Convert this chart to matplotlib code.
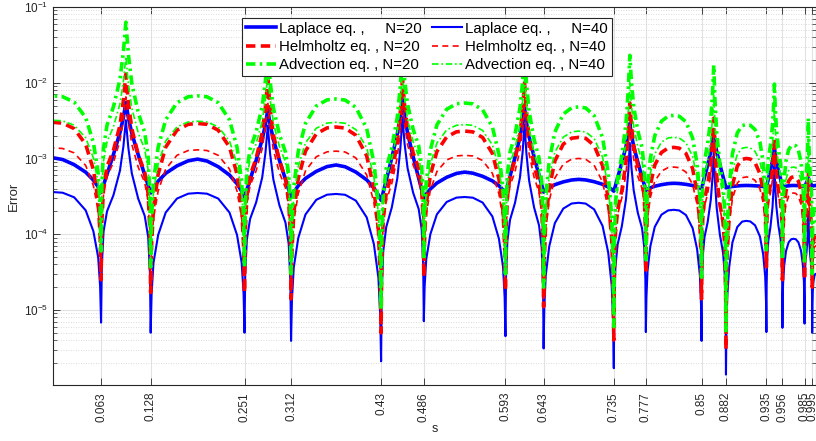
import numpy as np
import matplotlib
matplotlib.use('Agg')
import matplotlib.pyplot as plt
from matplotlib.ticker import LogLocator, NullFormatter

plt.rcParams['font.family'] = ['Liberation Sans', 'DejaVu Sans']

# s positions where the N=40 errors vanish (also used as x ticks)
nodes = [0.063, 0.128, 0.251, 0.312, 0.43, 0.486, 0.593, 0.643,
         0.735, 0.777, 0.85, 0.882, 0.935, 0.956, 0.985, 0.995]
tick_labels = ['0.063', '0.128', '0.251', '0.312', '0.43', '0.486', '0.593', '0.643',
               '0.735', '0.777', '0.85', '0.882', '0.935', '0.956', '0.985', '0.995']

# arch tops (s=0, the 7 gaps between node pairs, s=1),
# spike tops between each node pair, and the value at each node
lap20_tops = [1.02e-3, 9.8e-4, 8.2e-4, 6.6e-4, 5.3e-4, 4.7e-4, 4.4e-4, 4.4e-4, 4.4e-4]
lap20_peaks = [5.5e-3, 4.4e-3, 6.0e-3, 4.6e-3, 2.9e-3, 2.2e-3, 1.4e-3, 5.5e-4]
lap20_dips = [3.6e-4, 3.5e-4, 3.1e-4, 3.1e-4, 2.8e-4, 3.0e-4, 3.5e-4, 3.6e-4,
              3.7e-4, 3.8e-4, 4.0e-4, 4.1e-4, 4.2e-4, 4.2e-4, 4.3e-4, 4.3e-4]

lap40_tops = [3.6e-4, 3.5e-4, 3.4e-4, 3.1e-4, 2.6e-4, 2.1e-4, 1.5e-4, 8.7e-5, 3.0e-5]
lap40_peaks = [3.2e-3, 2.7e-3, 3.5e-3, 2.8e-3, 1.6e-3, 1.2e-3, 8.0e-4, 2.0e-4]
lap40_dips = [6.8e-6, 5.0e-6, 5.0e-6, 3.9e-6, 2.1e-6, 7.1e-6, 4.5e-6, 3.1e-6,
              1.7e-6, 5.1e-6, 3.9e-6, 1.4e-6, 5.1e-6, 5.8e-6, 6.6e-6, 5.0e-6]

helm20_tops = [3.0e-3, 2.9e-3, 2.6e-3, 2.3e-3, 1.9e-3, 1.4e-3, 1.0e-3, 5.7e-4, 1.0e-4]
helm20_peaks = [1.3e-2, 1.1e-2, 1.1e-2, 1.0e-2, 5.4e-3, 3.4e-3, 1.9e-3, 7.0e-4]
helm20_dips = [2.5e-5, 1.7e-5, 1.7e-5, 1.4e-5, 5.0e-6, 2.7e-5, 1.8e-5, 1.1e-5,
               4.0e-6, 3.0e-5, 1.4e-5, 3.0e-6, 3.7e-5, 2.5e-5, 2.5e-5, 2.0e-5]

helm40_tops = [1.38e-3, 1.3e-3, 1.25e-3, 1.1e-3, 1.0e-3, 7.7e-4, 5.7e-4, 3.5e-4, 7.0e-5]
helm40_peaks = [6.5e-3, 5.5e-3, 5.5e-3, 5.0e-3, 3.0e-3, 2.0e-3, 1.2e-3, 4.5e-4]
helm40_dips = [3.0e-5, 2.0e-5, 2.0e-5, 1.7e-5, 7.0e-6, 3.2e-5, 2.2e-5, 1.4e-5,
               6.0e-6, 3.5e-5, 1.7e-5, 5.0e-6, 4.2e-5, 3.0e-5, 3.0e-5, 2.5e-5]

adv20_tops = [6.7e-3, 6.7e-3, 6.1e-3, 5.4e-3, 4.8e-3, 3.7e-3, 2.8e-3, 1.5e-3, 2.5e-4]
adv20_peaks = [6.3e-2, 2.5e-2, 2.5e-2, 2.5e-2, 2.3e-2, 1.7e-2, 9.6e-3, 3.4e-3]
adv20_dips = [6.0e-5, 3.7e-5, 3.7e-5, 3.0e-5, 1.0e-5, 4.6e-5, 3.0e-5, 2.0e-5,
              6.0e-6, 4.6e-5, 2.7e-5, 5.0e-6, 6.2e-5, 4.6e-5, 4.0e-5, 3.0e-5]

adv40_tops = [3.2e-3, 3.1e-3, 3.0e-3, 2.8e-3, 2.3e-3, 1.9e-3, 1.4e-3, 7.7e-4, 1.5e-4]
adv40_peaks = [2.2e-2, 1.3e-2, 1.3e-2, 1.2e-2, 1.0e-2, 7.0e-3, 4.5e-3, 1.8e-3]
adv40_dips = [7.0e-5, 4.2e-5, 4.2e-5, 3.4e-5, 1.2e-5, 5.0e-5, 3.4e-5, 2.3e-5,
              8.0e-6, 5.0e-5, 3.0e-5, 7.0e-6, 6.5e-5, 5.0e-5, 4.5e-5, 3.5e-5]

# shape of one half-lobe (fraction of the log rise from node to top)
arch_pos = [0.0, 0.01, 0.03, 0.08, 0.16, 0.28, 0.4, 0.5]
arch_deep = [0.0, 0.28, 0.5, 0.7, 0.86, 0.96, 0.995, 1.0]
arch_soft = [0.0, 0.05, 0.15, 0.35, 0.58, 0.8, 0.95, 1.0]
peak_pos = [0.0, 0.015, 0.05, 0.12, 0.25, 0.38, 0.45, 0.5]
peak_deep = [0.0, 0.28, 0.45, 0.55, 0.63, 0.75, 0.87, 1.0]
peak_soft = [0.0, 0.02, 0.08, 0.2, 0.42, 0.66, 0.83, 1.0]


def build_curve(tops, peaks, dips, arch_frac, peak_frac):
    bounds = [-nodes[0]] + nodes + [2.0 - nodes[-1]]
    d = [dips[0]] + dips + [dips[-1]]
    s_out, v_out = [], []
    for k in range(len(bounds) - 1):
        a, b = bounds[k], bounds[k + 1]
        w = b - a
        if k % 2 == 0:
            top, frac, pos = tops[k // 2], np.array(arch_frac), np.array(arch_pos)
        else:
            top, frac, pos = peaks[k // 2], np.array(peak_frac), np.array(peak_pos)
        la, lb, lt = np.log10(d[k]), np.log10(d[k + 1]), np.log10(top)
        s_seg = np.concatenate([a + pos * w, (b - pos * w)[::-1][1:]])
        v_seg = np.concatenate([la + frac * (lt - la), (lb + frac * (lt - lb))[::-1][1:]])
        if k > 0:
            s_seg, v_seg = s_seg[1:], v_seg[1:]
        s_out.append(s_seg)
        v_out.append(v_seg)
    return np.concatenate(s_out), 10 ** np.concatenate(v_out)


fig = plt.figure(figsize=(8.16, 4.41), dpi=100)
ax = fig.add_axes([53 / 816, 56 / 441, 763 / 816, 378 / 441])

curves = [
    (lap20_tops, lap20_peaks, lap20_dips, arch_soft, peak_soft,
     dict(color='#0000ff', lw=2.6, ls='-'), 'Laplace eq. ,     N=20'),
    (lap40_tops, lap40_peaks, lap40_dips, arch_deep, peak_deep,
     dict(color='#0000ff', lw=1.5, ls='-'), 'Laplace eq. ,     N=40'),
    (helm20_tops, helm20_peaks, helm20_dips, arch_deep, peak_deep,
     dict(color='#ff0000', lw=2.6, dashes=(2.6, 1.5)), 'Helmholtz eq. , N=20'),
    (helm40_tops, helm40_peaks, helm40_dips, arch_deep, peak_deep,
     dict(color='#ff0000', lw=1.2, dashes=(3.6, 2.6)), 'Helmholtz eq. , N=40'),
    (adv20_tops, adv20_peaks, adv20_dips, arch_deep, peak_deep,
     dict(color='#00ff00', lw=2.6, dashes=(2.6, 1.2, 0.7, 1.2)), 'Advection eq. , N=20'),
    (adv40_tops, adv40_peaks, adv40_dips, arch_deep, peak_deep,
     dict(color='#00ff00', lw=1.2, dashes=(4.0, 1.6, 1.0, 1.6)), 'Advection eq. , N=40'),
]

lines = []
for tops, peaks, dips, af, pf, style, label in curves:
    s, v = build_curve(tops, peaks, dips, af, pf)
    ln, = ax.plot(s, v, label=label, **style)
    lines.append(ln)

ax.set_yscale('log')
ax.set_xlim(0, 1)
ax.set_ylim(1.02e-6, 1e-1)
ax.set_xticks(nodes)
ax.set_xticklabels(tick_labels, rotation=90)
ax.set_yticks([1e-5, 1e-4, 1e-3, 1e-2, 1e-1])
ax.yaxis.set_minor_locator(LogLocator(base=10, subs=range(2, 10), numticks=20))
ax.yaxis.set_minor_formatter(NullFormatter())

ax.tick_params(which='both', direction='in', top=True, right=True,
               colors='#262626', labelsize=8.5)
ax.tick_params(which='major', length=5, width=0.6)
ax.tick_params(which='minor', length=3, width=0.5)
ax.tick_params(axis='x', pad=5)
for sp in ax.spines.values():
    sp.set_color('#262626')
    sp.set_linewidth(0.8)

ax.grid(True, which='major', color='#e2e2e2', lw=0.8, ls='-')
ax.grid(True, which='minor', axis='y', color='#cfcfcf', lw=0.6, ls=(0, (1, 2)))
ax.set_axisbelow(True)

ax.set_xlabel('s', fontsize=9, color='#262626', labelpad=1)
ax.set_ylabel('Error', fontsize=9.5, color='#262626', labelpad=3)

order = [0, 2, 4, 1, 3, 5]
leg = ax.legend([lines[i] for i in order], [curves[i][-1] for i in order],
                ncol=2, loc='upper center', bbox_to_anchor=(0.49, 0.971),
                borderaxespad=0, fontsize=10.8, handlelength=2.0,
                handletextpad=0.2, columnspacing=0.7, labelspacing=0.28,
                borderpad=0.25, fancybox=False, framealpha=1,
                edgecolor='#262626')
leg.get_frame().set_linewidth(0.8)

fig.savefig('out.png', dpi=100)
